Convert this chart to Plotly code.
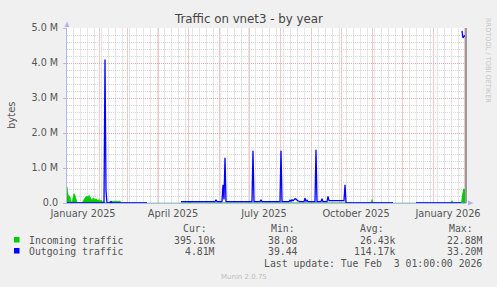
import plotly.graph_objects as go
import pandas as pd

# ---------------- data ----------------
in_dates = ["2024-12-31", "2025-01-01", "2025-01-02", "2025-01-03", "2025-01-04", "2025-01-05",
            "2025-01-06", "2025-01-07", "2025-01-08", "2025-01-09", "2025-01-10", "2025-01-12",
            "2025-01-15", "2025-01-16", "2025-01-17", "2025-01-18", "2025-01-19", "2025-01-20",
            "2025-01-21", "2025-01-22", "2025-01-23", "2025-01-24", "2025-01-25", "2025-01-26",
            "2025-01-27", "2025-01-28", "2025-01-29", "2025-01-30", "2025-01-31", "2025-02-01",
            "2025-02-02", "2025-02-03", "2025-02-04", "2025-02-05", "2025-02-06", "2025-02-07",
            "2025-02-10", "2025-02-11", "2025-02-12", "2025-02-13", "2025-02-14", "2025-02-16",
            "2025-02-18", "2025-02-20", "2025-02-22", "2025-02-23", "2025-03-21", "2025-03-22",
            "2025-04-23", "2025-04-24", "2025-05-02", "2025-05-03", "2025-05-04", "2025-10-31",
            "2025-11-01", "2025-11-02", "2025-11-22", "2025-11-23", "2025-12-14", "2025-12-15",
            "2026-01-19", "2026-01-20", "2026-01-21", "2026-01-29", "2026-01-30", "2026-01-31",
            "2026-02-03"]
in_vals = [470000, 250000, 200000, 180000, 50000, 20000,
           150000, 270000, 220000, 100000, 20000, 8000,
           8000, 50000, 120000, 150000, 180000, 200000,
           170000, 220000, 180000, 100000, 80000, 150000,
           130000, 100000, 120000, 80000, 70000, 100000,
           60000, 80000, 40000, 30000, 20000, 5000,
           5000, 20000, 45000, 30000, 50000, 40000,
           55000, 45000, 60000, 5000, 5000, None,
           None, 5000, 5000, 40000, 5000, 5000,
           100000, 5000, 5000, None, None, 5000,
           5000, 70000, 5000, 5000, None, 390000,
           395100]

out_dates = ["2024-12-31", "2025-02-06", "2025-02-07", "2025-02-08", "2025-02-09", "2025-02-12",
             "2025-02-13", "2025-02-14", "2025-03-21", "2025-03-22", "2025-04-23", "2025-04-24",
             "2025-05-28", "2025-05-29", "2025-05-30", "2025-06-04", "2025-06-05", "2025-06-06",
             "2025-06-07", "2025-06-08", "2025-07-04", "2025-07-05", "2025-07-06", "2025-07-12",
             "2025-07-13", "2025-07-14", "2025-08-01", "2025-08-02", "2025-08-03", "2025-08-10",
             "2025-08-11", "2025-08-12", "2025-08-13", "2025-08-14", "2025-08-15", "2025-08-16",
             "2025-08-17", "2025-08-18", "2025-08-19", "2025-08-20", "2025-08-21", "2025-08-25",
             "2025-08-26", "2025-08-27", "2025-08-28", "2025-08-29", "2025-09-05", "2025-09-06",
             "2025-09-07", "2025-09-11", "2025-09-12", "2025-09-13", "2025-09-17", "2025-09-18",
             "2025-09-19", "2025-10-04", "2025-10-05", "2025-10-06", "2025-11-22", "2025-11-23",
             "2025-12-14", "2025-12-15", "2026-01-29", "2026-01-29 23:00", "2026-01-30",
             "2026-01-31", "2026-02-01", "2026-02-03"]
out_vals = [0, 0, 4100000, 350000, 0, 0,
            40000, 0, 0, None, None, 40000,
            40000, 90000, 40000, 40000, 520000, 100000,
            1290000, 40000, 40000, 1490000, 40000, 40000,
            90000, 40000, 40000, 1490000, 40000, 40000,
            80000, 50000, 90000, 60000, 100000, 120000,
            110000, 70000, 60000, 50000, 40000, 40000,
            140000, 50000, 80000, 40000, 40000, 1520000,
            40000, 40000, 120000, 40000, 40000, 190000,
            70000, 70000, 520000, 0, 0, None,
            None, 0, 0, None, 4920000,
            4720000, 4760000, 4810000]

series_names = ["Incoming traffic", "Outgoing traffic"]
cur_vals = ["395.10k", "4.81M"]
min_vals = ["38.08", "39.44"]
avg_vals = ["26.43k", "114.17k"]
max_vals = ["22.88M", "33.20M"]

y_tickvals = [0, 1e6, 2e6, 3e6, 4e6, 5e6]
y_ticktext = ["0.0", "1.0 M", "2.0 M", "3.0 M", "4.0 M", "5.0 M"]
x_label_dates = ["2025-01-16", "2025-04-16", "2025-07-16", "2025-10-16", "2026-01-16"]
x_label_text = ["January 2025", "April 2025", "July 2025", "October 2025", "January 2026"]

# ---------------- layout helpers ----------------
W, H = 497, 287
ML, MR, MT, MB = 67, 31, 28, 84
PW = W - ML - MR
PH = H - MT - MB


def px(x):
    return (x - ML) / PW


def py(y):
    return (H - MB - y) / PH


GREEN = "#00CC00"
BLUE = "#0000FF"
AXIS = "#B4B4EE"
RED_GRID = "#EAA8A8"
GRAY_GRID = "#D6D6D6"
RED_GRID_V = "#F1C8C8"
GRAY_GRID_V = "#E6E6E6"
TXT = "#555555"

x_range = ["2024-12-31", "2026-02-03"]
month_starts = [d.strftime("%Y-%m-%d") for d in pd.date_range("2025-01-01", "2026-02-01", freq="MS")]
mondays = [d.strftime("%Y-%m-%d") for d in pd.date_range("2025-01-06", "2026-02-02", freq="7D")]
y_minor = [v * 2e5 for v in range(25) if v % 5 != 0]

fig = go.Figure()
fig.add_trace(go.Scatter(x=in_dates, y=in_vals, mode="lines", fill="tozeroy",
                         line=dict(color=GREEN, width=0.6), fillcolor=GREEN,
                         connectgaps=False, showlegend=False, hoverinfo="skip"))
fig.add_trace(go.Scatter(x=out_dates, y=out_vals, mode="lines",
                         line=dict(color=BLUE, width=1.3),
                         connectgaps=False, showlegend=False, hoverinfo="skip"))
# invisible trace to carry the label axis
fig.add_trace(go.Scatter(x=x_range, y=[None, None], xaxis="x2", yaxis="y",
                         mode="lines", showlegend=False, hoverinfo="skip"))

fig.update_layout(
    width=W, height=H,
    margin=dict(l=ML, r=MR, t=MT, b=MB, pad=0),
    paper_bgcolor="#F0F0F0", plot_bgcolor="white",
    font=dict(family="DejaVu Sans", color=TXT),
    xaxis=dict(type="date", range=x_range, tickmode="array", tickvals=month_starts,
               showticklabels=False, ticks="", showgrid=True, gridcolor=RED_GRID_V,
               gridwidth=1, showline=True, linecolor=AXIS, linewidth=1,
               layer="above traces", zeroline=False,
               minor=dict(tickmode="array", tickvals=mondays, showgrid=True,
                          gridcolor=GRAY_GRID_V, gridwidth=1, ticks="")),
    xaxis2=dict(type="date", range=x_range, overlaying="x", anchor="y", side="bottom",
                tickmode="array", tickvals=x_label_dates, ticktext=x_label_text,
                showgrid=False, ticks="", showline=False, zeroline=False,
                ticklabelstandoff=3,
                tickfont=dict(size=9.8, color=TXT, family="DejaVu Sans")),
    yaxis=dict(range=[0, 5e6], tickmode="array", tickvals=y_tickvals, ticktext=y_ticktext,
               showgrid=True, gridcolor=RED_GRID, griddash="1px,1px", gridwidth=1,
               ticks="outside", ticklen=3, tickcolor=AXIS, ticklabelstandoff=3,
               showline=True, linecolor=AXIS, linewidth=1, zeroline=False,
               layer="above traces",
               tickfont=dict(size=9.6, color=TXT, family="DejaVu Sans"),
               minor=dict(tickmode="array", tickvals=y_minor, showgrid=True,
                          gridcolor=GRAY_GRID, griddash="1px,1px", gridwidth=1, ticks="")),
)

shapes = [
    # right-edge rule
    dict(type="line", xref="paper", yref="paper", x0=1, x1=1, y0=0, y1=1,
         line=dict(color="#9A9A9A", width=2)),
    # axis arrows
    dict(type="path", xref="paper", yref="paper",
         path=f"M {px(64.5)} {py(27)} L {px(69.5)} {py(27)} L {px(67)} {py(21.5)} Z",
         fillcolor=AXIS, line=dict(width=0)),
    dict(type="path", xref="paper", yref="paper",
         path=f"M {px(468)} {py(200.5)} L {px(468)} {py(205.5)} L {px(473.5)} {py(203)} Z",
         fillcolor=AXIS, line=dict(width=0)),
    # legend swatches
    dict(type="rect", xref="paper", yref="paper", x0=px(14), x1=px(19.5), y0=py(242.5), y1=py(237),
         fillcolor=GREEN, line=dict(width=0)),
    dict(type="rect", xref="paper", yref="paper", x0=px(14), x1=px(19.5), y0=py(253.5), y1=py(248),
         fillcolor=BLUE, line=dict(width=0)),
]

MONO = "DejaVu Sans Mono"
ann = []


def text(x, y, s, xanchor="left", size=9.8, color=TXT, family=MONO, angle=0):
    ann.append(dict(x=px(x), y=py(y), xref="paper", yref="paper", text=s, showarrow=False,
                    xanchor=xanchor, yanchor="middle", textangle=angle,
                    font=dict(family=family, size=size, color=color)))


# title
text(248.5, 18.5, "Traffic on vnet3 - by year", xanchor="center", size=11.8, color="#444444",
     family="DejaVu Sans")
# y axis title
text(11.5, 115.5, "bytes", xanchor="center", size=10, family="DejaVu Sans", angle=-90)
# watermark
text(488, 60, "RRDTOOL / TOBI OETIKER", xanchor="center", size=6.6, color="#C4C4C4",
     family="DejaVu Sans", angle=90)

# legend table
text(181, 228.5, "Cur:")
text(269, 228.5, "Min:")
text(358, 228.5, "Avg:")
text(447, 228.5, "Max:")
rows_y = [240, 251]
for i, yy in enumerate(rows_y):
    text(27, yy, series_names[i])
    text(217, yy, cur_vals[i], xanchor="right")
    text(299.5, yy, min_vals[i], xanchor="right")
    text(396.5, yy, avg_vals[i], xanchor="right")
    text(484, yy, max_vals[i], xanchor="right")
text(484, 263.3, "Last update: Tue Feb \u00a03 01:00:00 2026", xanchor="right")
text(244, 276.5, "Munin 2.0.75", xanchor="center", size=7, color="#BDBDBD", family="DejaVu Sans")

fig.update_layout(shapes=shapes, annotations=ann)
fig.write_html("out.html")
